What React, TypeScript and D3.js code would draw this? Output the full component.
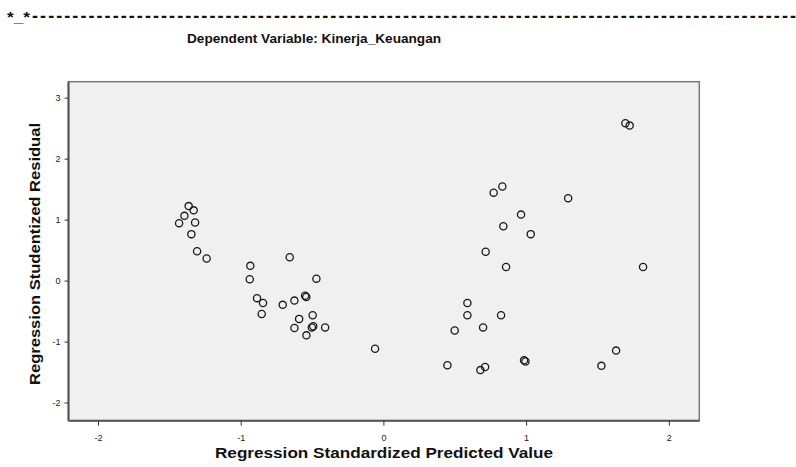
import React from "react";
import * as d3 from "d3";

const predicted: number[] = [
  -1.368, -1.333, -1.398, -1.435, -1.323, -1.349, -1.309, -1.242, -0.936, -0.66,
  -0.473, -0.94, -0.889, -0.847, -0.552, -0.544, -0.627, -0.709, -0.856, -0.594,
  -0.499, -0.627, -0.495, -0.505, -0.412, -0.543, -0.062,
  1.692, 1.722, 0.83, 0.769, 1.291, 0.961, 0.837, 1.029, 0.713, 0.856, 1.816,
  0.585, 0.585, 0.821, 0.695, 0.496, 0.445, 0.709, 0.676, 0.982, 0.992, 1.627, 1.524,
];
const residual: number[] = [
  1.23, 1.16, 1.07, 0.95, 0.96, 0.77, 0.49, 0.37, 0.25, 0.39,
  0.04, 0.03, -0.28, -0.36, -0.24, -0.26, -0.32, -0.39, -0.54, -0.62,
  -0.56, -0.77, -0.74, -0.76, -0.76, -0.89, -1.11,
  2.59, 2.55, 1.55, 1.45, 1.36, 1.09, 0.9, 0.77, 0.48, 0.23, 0.23,
  -0.36, -0.56, -0.56, -0.76, -0.81, -1.38, -1.41, -1.46, -1.3, -1.32, -1.14, -1.39,
];
const xTicks: number[] = [-2, -1, 0, 1, 2];
const yTicks: number[] = [-2, -1, 0, 1, 2, 3];
const headerStars = "*_*";
const headerDashes = "-".repeat(95);
const titleText = "Dependent Variable: Kinerja_Keuangan";
const xLabel = "Regression Standardized Predicted Value";
const yLabel = "Regression Studentized Residual";

export default function App() {
  const W = 796, H = 467;
  const left = 68.5, right = 699.3, top = 81.7, bottom = 420.7;
  const x = d3.scaleLinear().domain([-2.21, 2.21]).range([left, right]);
  const y = d3.scaleLinear().domain([-2.29, 3.27]).range([bottom, top]);
  const font = "'Liberation Sans', Arial, sans-serif";
  const fmt = (v: number) => (v < 0 ? "-" + Math.abs(v) : String(v));
  return (
    <svg width={W} height={H} style={{ position: "absolute", left: 0, top: 0, background: "#fff" }}>
      <text x={7} y={22} fontFamily={font} fontWeight="bold" fontSize={15} fill="#111"
        textLength={23} lengthAdjust="spacingAndGlyphs">{headerStars}</text>
      <text x={32} y={22} fontFamily={font} fontWeight="bold" fontSize={18} fill="#111"
        textLength={764} lengthAdjust="spacing">{headerDashes}</text>
      <text x={187} y={43} fontFamily={font} fontWeight="bold" fontSize={12} fill="#111"
        textLength={254} lengthAdjust="spacingAndGlyphs">{titleText}</text>
      <rect x={left} y={top} width={right - left} height={bottom - top} fill="#f0f0f0"
        stroke="#7a7a7a" strokeWidth={1.5} />
      <line x1={left} x2={left} y1={top} y2={bottom} stroke="#555" strokeWidth={2} />
      <line x1={left} x2={right} y1={bottom} y2={bottom} stroke="#555" strokeWidth={2} />
      {yTicks.map((t) => (
        <g key={"y" + t}>
          <line x1={left - 4} x2={left} y1={y(t)} y2={y(t)} stroke="#333" strokeWidth={1} />
          <text x={left - 8} y={y(t)} dy="0.35em" textAnchor="end" fontFamily={font}
            fontSize={9} fill="#222">{fmt(t)}</text>
        </g>
      ))}
      {xTicks.map((t) => (
        <g key={"x" + t}>
          <line x1={x(t)} x2={x(t)} y1={bottom} y2={bottom + 5} stroke="#333" strokeWidth={1} />
          <text x={x(t)} y={441} textAnchor="middle" fontFamily={font}
            fontSize={9} fill="#222">{fmt(t)}</text>
        </g>
      ))}
      {predicted.map((p, i) => (
        <circle key={i} cx={x(p)} cy={y(residual[i])} r={3.6} fill="none"
          stroke="#1a1a1a" strokeWidth={1.3} />
      ))}
      <text x={384} y={458} textAnchor="middle" fontFamily={font} fontWeight="bold"
        fontSize={14} fill="#111" textLength={338} lengthAdjust="spacingAndGlyphs">{xLabel}</text>
      <text transform={`translate(40, 254) rotate(-90)`} textAnchor="middle" fontFamily={font}
        fontWeight="bold" fontSize={14} fill="#111" textLength={262}
        lengthAdjust="spacingAndGlyphs">{yLabel}</text>
    </svg>
  );
}
